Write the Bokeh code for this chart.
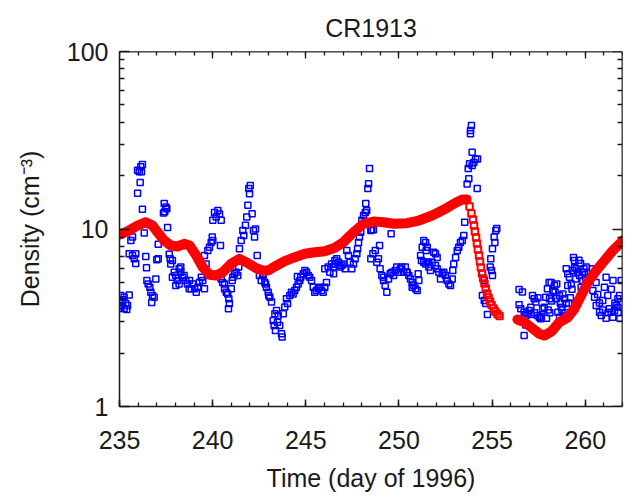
from bokeh.plotting import figure
from bokeh.models import Range1d, FixedTicker, LinearAxis, LogAxis, BasicTickFormatter
from bokeh.embed import file_html
from bokeh.resources import INLINE

# ---------------- data ----------------
title_text = "CR1913"
x_label = "Time (day of 1996)"
y_label = "Density (cm\u207b\u00b3)"
x_ticks = [235, 240, 245, 250, 255, 260]
y_ticks = [1, 10, 100]

blue_day = [
    235.07, 235.25, 235.52, 235.00, 235.16, 235.34, 235.43, 235.07, 235.00, 235.25, 235.39, 235.16,
    235.61, 235.70, 235.52, 235.70, 235.87, 235.79, 235.87,
    236.23, 236.14, 235.97, 236.06, 236.18, 236.11, 235.97, 236.23, 236.33, 236.41, 236.45,
    236.47, 236.54, 236.63, 236.68, 236.77, 236.86, 236.73, 236.95, 237.00, 237.08, 237.08,
    237.58, 237.40, 237.49, 237.36, 237.43, 237.54,
    237.67, 237.72, 237.75, 237.84,
    237.94, 237.84, 238.02, 238.11, 238.20, 238.29, 238.38, 238.47, 238.56, 238.65, 238.74, 238.29, 238.02, 238.20,
    238.76, 238.93, 239.03, 239.12, 239.20, 239.29, 239.39, 239.47, 239.56, 238.85,
    239.65, 239.56, 239.74, 239.83, 239.92, 240.01, 239.98, 240.42,
    240.10, 240.28, 240.37, 240.19, 240.01, 240.46,
    240.46, 240.54, 240.64, 240.73, 240.81, 240.87, 240.90, 240.85, 240.64, 241.00,
    241.08, 241.17, 241.26, 241.35, 241.40, 241.05,
    241.44, 241.53, 241.62, 241.67, 241.76, 241.83, 241.89, 241.98, 242.02, 241.94, 242.12, 242.19, 242.25, 242.30,
    242.39, 242.51, 242.61, 242.69,
    242.71, 242.80, 242.89, 242.98, 243.07, 243.16, 243.01, 242.84,
    243.25, 243.34, 243.43, 243.52, 243.30, 243.37, 243.60, 243.70, 243.73, 243.48,
    243.79, 243.87, 244.02, 243.96, 244.14, 244.23, 244.32, 244.41, 244.50, 244.59, 244.68, 244.55, 244.73, 244.86,
    244.95, 245.04, 245.13, 245.21, 245.31, 245.40, 245.48, 245.57, 245.67, 245.75, 245.84, 245.93, 246.02, 246.11,
    246.02, 246.20, 246.29, 246.38, 246.47, 246.56,
    246.49, 246.58, 246.66, 246.76, 246.85, 246.93, 247.02, 247.11, 247.20, 247.29, 247.38, 247.47, 247.56, 247.65,
    247.74, 247.78, 247.83, 247.88, 247.95, 247.92, 248.01, 248.10, 248.19, 248.27, 248.22, 248.33, 248.37, 248.42,
    248.49, 248.54, 248.63, 248.49, 248.60, 248.73, 248.81, 248.90, 248.96, 248.99, 249.08, 249.17, 249.26, 249.35,
    249.17, 249.44, 249.53, 249.62, 249.71, 249.80, 249.88, 249.98, 250.07, 250.15, 250.24, 250.34, 250.42, 249.58,
    250.44, 250.53, 250.62, 250.71, 250.80, 250.89, 250.98, 250.71, 251.03, 251.07, 251.16, 251.21, 251.25, 251.33,
    251.43, 251.52, 251.46, 251.33, 251.43, 251.52, 251.60, 251.69, 251.60, 251.78, 251.87, 251.96, 252.05, 251.96,
    252.05, 252.14, 252.23, 252.32, 252.41, 252.50, 252.59, 252.68, 252.77, 252.86, 252.89, 252.94, 253.04, 253.13,
    253.21, 253.30, 253.40, 253.48, 253.53, 253.57, 253.66, 253.75, 253.72, 253.79, 253.93, 254.02, 254.11, 253.93,
    253.84, 253.89, 253.84, 254.20,
    254.22, 255.25, 255.20, 255.11, 255.15, 255.02, 254.93, 254.90, 254.97, 255.02, 254.48, 254.58, 254.48, 254.58,
    254.66, 254.75,
    256.45, 256.45, 256.54, 256.72, 256.81, 256.90, 256.99, 257.08, 257.17, 257.26, 257.35, 257.44, 257.53, 257.61,
    257.71, 257.80, 257.88, 257.97, 258.06, 256.72, 256.81, 256.63, 257.09, 257.28, 257.46, 257.65, 257.92, 258.01,
    258.10, 258.19, 258.28, 258.47, 258.38, 258.66, 258.75, 258.93, 259.11, 259.20, 259.29, 259.48, 259.66, 259.75,
    259.84, 259.93, 260.03, 260.21, 260.39, 260.58, 260.67, 260.76, 260.94, 261.12, 261.22, 261.40, 261.49, 261.59,
    261.77, 261.86,
    258.17, 258.26, 258.35, 258.08, 258.44, 258.62, 258.80, 258.89, 258.98, 258.71, 258.53, 258.62, 259.06, 259.25,
    258.98, 259.06, 259.15, 259.33, 259.42, 259.51, 259.60, 259.69, 259.78, 259.87, 259.96, 260.05, 259.37, 259.42,
    260.41, 260.50, 260.59, 260.77, 260.86, 260.94, 261.03, 261.12, 261.21, 261.30, 261.39, 261.48, 261.57, 261.66,
    261.75, 261.84, 261.93, 261.75,
]
blue_val = [
    4.22, 4.13, 4.25, 3.96, 3.88, 3.80, 3.71, 3.71, 3.57, 3.57, 3.52, 4.00,
    8.62, 9.00, 7.26, 7.09, 7.26, 6.80, 6.40,
    23.1, 22.4, 21.4, 21.0, 21.0, 18.3, 15.9, 12.9, 9.5, 7.0, 6.05,
    5.13, 4.90, 4.70, 4.40, 4.22, 4.13, 3.85, 5.23, 6.70, 6.80, 8.20,
    10.2, 13.9, 13.3, 12.3, 12.5, 13.0,
    7.20, 6.80, 6.35, 6.65,
    5.70, 5.35, 5.47, 5.13, 5.97, 5.70, 5.35, 5.47, 5.13, 4.90, 4.60, 6.10, 4.81, 4.90,
    5.13, 4.90, 4.60, 4.40, 4.70, 5.00, 5.35, 5.13, 4.60, 4.60,
    6.35, 7.09, 7.57, 7.90, 8.40, 8.62, 9.00, 8.07,
    12.4, 12.7, 12.16, 11.7, 11.2, 11.2,
    5.23, 5.00, 4.60, 4.40, 4.30, 4.05, 3.80, 3.55, 4.90, 4.60,
    5.35, 5.60, 5.70, 5.47, 6.10, 5.13,
    7.75, 8.62, 9.81, 9.19, 10.5, 11.7, 13.6, 15.8, 17.6, 16.9, 12.2, 9.81, 9.00, 10.0,
    7.09, 5.47, 5.13, 5.60,
    5.47, 5.00, 4.70, 4.40, 4.13, 3.88, 4.22, 4.90,
    3.05, 3.33, 3.47, 3.26, 2.86, 2.68, 2.86, 2.57, 2.46, 2.98,
    3.33, 3.64, 3.80, 4.05, 4.22, 4.40, 4.30, 4.50, 4.70, 4.90, 5.13, 5.40, 5.35, 5.60,
    5.84, 5.70, 5.47, 5.35, 5.13, 4.70, 4.40, 4.50, 4.60, 4.70, 4.50, 4.40, 4.70, 5.00,
    5.97, 6.10, 5.70, 6.35, 6.10, 6.65,
    5.60, 6.35, 6.80, 6.50, 6.10, 6.23, 6.35, 5.97, 7.57, 7.09, 6.50, 5.97, 6.35, 6.80,
    7.25, 7.75, 8.40, 9.00, 9.60, 10.3, 11.2, 11.9, 12.4, 12.7, 13.9, 16.9, 18.0, 21.9,
    9.81, 9.90, 9.90, 6.80, 7.25, 7.57, 6.50, 6.80, 8.07, 5.97, 5.47, 5.13, 4.81, 4.40,
    5.35, 5.23, 5.60, 5.70, 5.47, 5.84, 6.10, 5.70, 5.97, 6.10, 5.70, 6.10, 5.70, 9.40,
    5.70, 5.47, 5.23, 5.00, 4.81, 4.60, 4.50, 4.70, 5.60, 5.13, 7.09, 6.65, 7.90, 8.62,
    8.40, 7.90, 7.57, 6.50, 6.35, 6.50, 6.10, 5.84, 6.50, 6.50, 7.40, 7.25, 6.90, 6.23,
    5.97, 5.70, 5.23, 5.60, 5.70, 5.47, 5.13, 4.90, 4.81, 5.23, 5.84, 6.35, 6.90, 7.57,
    7.90, 8.40, 8.62, 9.19, 10.9, 14.8, 17.9, 19.2, 21.9, 23.3, 22.8, 23.7, 24.8, 27.1,
    34.4, 38.3, 35.9, 16.9,
    24.8, 10.05, 9.81, 9.00, 8.40, 7.75, 6.80, 6.10, 5.84, 5.47, 5.60, 5.13, 4.22, 3.96,
    3.80, 3.30,
    4.56, 3.74, 3.55, 3.40, 3.26, 3.33, 3.47, 3.62, 4.22, 4.05, 3.88, 3.26, 3.18, 3.12,
    3.55, 3.62, 4.13, 4.60, 5.00, 2.51, 2.88, 4.42, 3.30, 3.37, 4.10, 3.20, 3.14, 3.50,
    3.37, 3.93, 4.48, 4.90, 4.40, 3.83, 3.50, 3.37, 3.83, 4.10, 4.58, 5.23, 6.67, 6.40,
    5.70, 5.97, 5.23, 5.35, 5.97, 5.00, 4.27, 3.83, 3.50, 3.14, 3.37, 4.58, 5.12, 3.83,
    3.37, 3.14,
    5.00, 4.50, 4.81, 4.05, 4.05, 4.22, 4.30, 4.05, 3.80, 3.62, 3.40, 3.18, 4.81, 4.90,
    5.97, 5.60, 5.35, 5.84, 6.05, 5.97, 5.70, 5.47, 4.70, 5.13, 5.70, 6.10, 6.90, 6.65,
    4.50, 4.13, 3.71, 3.40, 3.26, 3.96, 4.70, 5.35, 4.22, 3.55, 3.40, 3.18, 3.47, 3.71,
    4.05, 4.22, 5.13, 3.62,
]

# red model curve: smooth part before the drop
red1_day = [235.00, 235.43, 235.97, 236.41, 236.77, 237.04, 237.40, 237.75, 238.11, 238.47, 238.76,
            239.12, 239.47, 239.83, 240.19, 240.54, 240.99, 241.44, 241.89, 242.34, 242.69, 242.98,
            243.34, 243.87, 244.41, 244.95, 245.48, 246.02, 246.56, 247.02, 247.56, 248.10, 248.63,
            249.17, 249.71, 250.42, 251.07, 251.78, 252.50, 253.04, 253.40, 253.63]
red1_val = [9.31, 9.70, 10.46, 10.92, 10.46, 9.59, 8.61, 8.07, 7.97, 8.25, 8.07,
            7.09, 6.09, 5.52, 5.47, 5.71, 6.37, 6.79, 6.42, 6.01, 5.84, 5.84,
            6.15, 6.59, 6.94, 7.25, 7.40, 7.50, 7.84, 8.43, 9.59, 10.70, 11.02,
            10.92, 10.70, 10.78, 11.16, 11.92, 12.99, 14.05, 14.66, 14.66]
# red model curve: steep drop (separate squares)
red_drop_day = [253.63, 253.79, 253.89, 253.97, 254.03, 254.08, 254.14, 254.19, 254.24, 254.30, 254.35, 254.40,
                254.46, 254.52, 254.59, 254.66, 254.73, 254.81, 254.89, 254.97, 255.08, 255.18, 255.29, 255.40]
red_drop_val = [14.66, 13.39, 12.23, 11.31, 10.46, 9.68, 8.96, 8.28, 7.66, 7.09, 6.56, 6.07,
                5.61, 5.26, 4.93, 4.62, 4.33, 4.11, 3.90, 3.73, 3.57, 3.43, 3.32, 3.24]
# red model curve after the data gap
red2_day = [256.36, 256.72, 257.08, 257.53, 257.80, 258.19, 258.62, 259.06, 259.42, 259.78, 260.14,
            260.59, 261.03, 261.48, 261.93, 262.00]
red2_val = [3.09, 2.99, 2.80, 2.57, 2.51, 2.65, 2.99, 3.18, 3.55, 4.22, 5.02,
            5.84, 6.64, 7.56, 8.43, 8.61]

# ---------------- figure ----------------
FONT = "Liberation Sans"
INK = "#1a1a1a"
BLUE = "#0000ff"
RED = "#ff0000"

p = figure(width=638, height=499, x_range=Range1d(235, 262), y_range=Range1d(1, 100),
           y_axis_type="log", output_backend="svg", toolbar_location=None,
           min_border_left=119, min_border_right=16, min_border_top=51, min_border_bottom=93,
           background_fill_color="white", border_fill_color="white")
p.outline_line_color = None
p.xgrid.visible = False
p.ygrid.visible = False

p.title.text = title_text
p.title.align = "center"
p.title.text_font = FONT
p.title.text_font_size = "25px"
p.title.text_font_style = "normal"
p.title.text_color = INK
p.title.standoff = 20
p.title.text_line_height = 0.8

x_minor = list(range(235, 263))
y_minor = [m * d for d in (1, 10) for m in range(2, 10)]
no_ticks = []


def style(ax, major, minor):
    ax.major_tick_in = major
    ax.major_tick_out = 0
    ax.minor_tick_in = minor
    ax.minor_tick_out = 0
    ax.axis_line_color = INK
    ax.axis_line_width = 1.5
    ax.major_tick_line_color = INK
    ax.major_tick_line_width = 1.5
    ax.minor_tick_line_color = INK
    ax.minor_tick_line_width = 1.3
    ax.major_label_text_font = FONT
    ax.major_label_text_color = INK
    ax.major_label_text_font_size = "25px"
    ax.axis_label_text_font = FONT
    ax.axis_label_text_color = INK
    ax.axis_label_text_font_style = "normal"
    ax.axis_label_text_font_size = "25px"


xa = p.xaxis[0]
xa.ticker = FixedTicker(ticks=x_ticks, minor_ticks=x_minor)
style(xa, 7, 4)
xa.major_label_standoff = 24
xa.axis_label = x_label
xa.axis_label_standoff = 12

ya = p.yaxis[0]
ya.ticker = FixedTicker(ticks=y_ticks, minor_ticks=y_minor)
ya.formatter = BasicTickFormatter()
style(ya, 10, 5)
ya.major_label_standoff = 11
ya.axis_label = y_label
ya.axis_label_standoff = 20

# mirrored tick marks on the top and right edges (no labels)
for minors, length in ((x_minor, 4), (x_ticks, 7)):
    ax = LinearAxis(ticker=FixedTicker(ticks=no_ticks, minor_ticks=minors), fixed_location=100)
    style(ax, 0, length)
    p.add_layout(ax, "above")
for minors, length in ((y_minor, 5), (y_ticks, 10)):
    ax = LogAxis(ticker=FixedTicker(ticks=no_ticks, minor_ticks=minors), fixed_location=262)
    style(ax, 0, length)
    p.add_layout(ax, "right")

p.scatter(blue_day, blue_val, marker="square", size=6, fill_color=None,
          line_color=BLUE, line_width=1.5)

p.line(red1_day, red1_val, line_color=RED, line_width=10, line_join="round", line_cap="round")
p.scatter(red_drop_day, red_drop_val, marker="square", size=6.5, fill_color=None,
          line_color=RED, line_width=2)
p.line(red2_day, red2_val, line_color=RED, line_width=10, line_join="round", line_cap="round")

open("out.html", "w").write(file_html(p, INLINE))
